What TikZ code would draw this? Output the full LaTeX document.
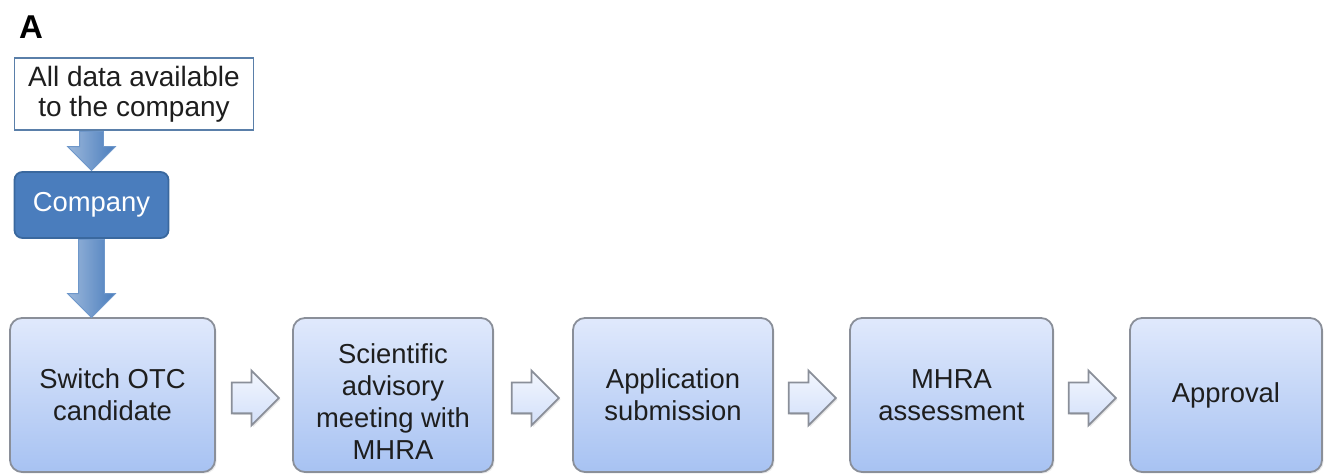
\documentclass[tikz,border=0pt]{standalone}
\usepackage{fontspec}
\setmainfont{Liberation Sans}
\usetikzlibrary{shapes.arrows,calc,shadows}

\definecolor{stepTop}{HTML}{E0E9FC}
\definecolor{stepBottom}{HTML}{A7C2F2}
\definecolor{stepBorder}{HTML}{8A8F99}
\definecolor{companyFill}{HTML}{4A7DBD}
\definecolor{companyBorder}{HTML}{3A689E}
\definecolor{dataBorder}{HTML}{5A7FA9}
\definecolor{textGray}{HTML}{1E1E1E}

\begin{document}
\begin{tikzpicture}
[x=0.5pt,y=-0.5pt,
  stepDecorate/.style={shape=rectangle,rounded corners=6pt,draw=stepBorder,line width=0.9pt,
    top color=stepTop,bottom color=stepBottom,minimum height=77pt,align=center,
    text=textGray,font=\fontsize{13.7}{16}\selectfont,
    drop shadow={opacity=0.15,shadow xshift=0.8pt,shadow yshift=-0.8pt}},%
  dataDecorate/.style={shape=rectangle,draw=dataBorder,line width=0.9pt,fill=white,
    minimum width=119.5pt,minimum height=36pt,align=center,text=textGray,
    font=\fontsize{14}{15}\selectfont},%
  companyDecorate/.style={shape=rectangle,rounded corners=4pt,draw=companyBorder,line width=0.9pt,
    fill=companyFill,text=white,minimum width=77pt,minimum height=33pt,
    font=\fontsize{13.7}{15}\selectfont},%
  flowArrow/.style={single arrow,anchor=tip,draw=stepBorder,line width=0.9pt,top color=white!60!stepTop,
    bottom color=stepTop!75!stepBottom,minimum height=23.5pt,inner sep=7.25pt,
    single arrow head extend=6pt,
    drop shadow={opacity=0.2,shadow xshift=0.8pt,shadow yshift=-0.8pt}},%
  downArrow/.style={single arrow,anchor=tip,shape border rotate=270,draw=companyFill!80!white,line width=0.4pt,
    left color=companyFill!55!white,right color=companyFill}]
\useasboundingbox (0,0) rectangle (1324,474);
%% panel letter and top boxes
\node (panel) at (31,27) {\fontsize{16.5}{16}\selectfont\bfseries A};
\node (data) at (134,94) [dataDecorate] {All data available\\to the company};
\node (company) at (91.5,205) [companyDecorate] {Company};
%% process steps
\foreach \nodename/\x/\boxwidth/\txt in {
  s1/112.5/102.5/{Switch OTC\\candidate},
  s2/393/100/{\rule{0pt}{17pt}Scientific\\advisory\\meeting with\\MHRA},
  s3/673/100/{Application\\submission},
  s4/951.5/101.5/{MHRA\\assessment},
  s5/1226/96/{Approval}}
{
  \node (\nodename) at (\x,395) [stepDecorate,minimum width=\boxwidth pt] {\txt};
}
%% arrows
\node (down1) at (company.north)
  [downArrow,minimum height=19.5pt,inner sep=5.75pt,single arrow head extend=6pt] {};
\node (down2) at ($(company.south |- s1.north)+(0,1)$)
  [downArrow,minimum height=39pt,inner sep=6.25pt,single arrow head extend=5.5pt] {};
\foreach \startnode/\endnode in {s1/s2, s2/s3, s3/s4, s4/s5}
{
  \node (\startnode\endnode) at ($(\endnode.west)+(-12,3)$) [flowArrow] {};
}
\end{tikzpicture}
\end{document}
